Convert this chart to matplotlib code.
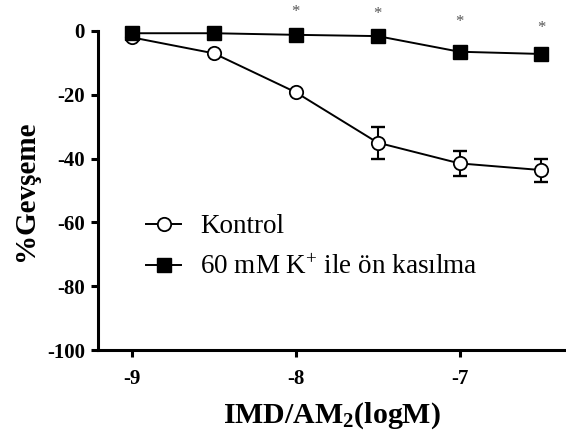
import numpy as np
import matplotlib
matplotlib.use('Agg')
import matplotlib.pyplot as plt

plt.rcParams['font.family'] = 'Liberation Serif'
plt.rcParams['mathtext.fontset'] = 'custom'
plt.rcParams['mathtext.rm'] = 'Liberation Serif'
plt.rcParams['mathtext.bf'] = 'Liberation Serif:bold'
plt.rcParams['mathtext.default'] = 'regular'

# --- data ---
log_conc = [-9, -8.5, -8, -7.5, -7, -6.5]
kontrol = [-2.0, -7.0, -19.2, -35.0, -41.5, -43.6]
kontrol_err = [0, 0, 0, 5.0, 3.8, 3.6]
k60 = [-0.7, -0.7, -1.2, -1.6, -6.5, -7.2]
star_x = [-8, -7.5, -7, -6.5]
star_y = [6.0, 5.3, 2.8, 1.0]

fig = plt.figure(figsize=(5.66, 4.37), dpi=100)
ax = fig.add_axes([97.5 / 566, 1 - 350 / 437, 1 - 97.5 / 566, (350 - 31) / 437])

# error bars first, then lines/markers on top
ax.errorbar(log_conc, kontrol, yerr=kontrol_err, fmt='none', ecolor='black',
            capsize=5, capthick=1.7, elinewidth=1.5, zorder=2)
ax.plot(log_conc, kontrol, '-o', color='black', mfc='white', mec='black',
        ms=9.6, mew=1.3, lw=1.4, clip_on=False, label='Kontrol', zorder=3)
ax.plot(log_conc, k60, '-s', color='black', ms=10, lw=1.4, clip_on=False,
        label='60 mM K$^{+}$ ile ön kasılma', zorder=4)

for x, y in zip(star_x, star_y):
    ax.text(x, y, '*', ha='center', va='center', fontsize=12, color='#555555')

ax.set_xlim(-9.21, -6.35)
ax.set_ylim(-100, 0)
ax.set_xticks([-9, -8, -7])
ax.set_yticks([0, -20, -40, -60, -80, -100])
ax.set_xticklabels(['-9', '-8', '-7'])
ax.set_yticklabels(['0', '-20', '-40', '-60', '-80', '-100'])

for s in ['top', 'right']:
    ax.spines[s].set_visible(False)
for s in ['left', 'bottom']:
    ax.spines[s].set_linewidth(2.2)
ax.tick_params(direction='out', length=5, width=2.2, labelsize=15)
ax.tick_params(axis='y', pad=4)
ax.tick_params(axis='x', pad=9)
for lab in ax.get_xticklabels() + ax.get_yticklabels():
    lab.set_fontweight('bold')

ax.set_xlabel('IMD/AM$_2$(logM)', fontsize=21.5, fontweight='bold', labelpad=8)
ax.set_ylabel('%Gevşeme', fontsize=21, fontweight='bold', labelpad=6)

ax.legend(loc='upper left', bbox_to_anchor=(146 / 566, 1 - 214 / 437),
          bbox_transform=fig.transFigure, frameon=False, fontsize=19.5,
          handlelength=1.3, handletextpad=0.7, labelspacing=0.6,
          borderaxespad=0, borderpad=0)

fig.savefig('out.png', dpi=100)
